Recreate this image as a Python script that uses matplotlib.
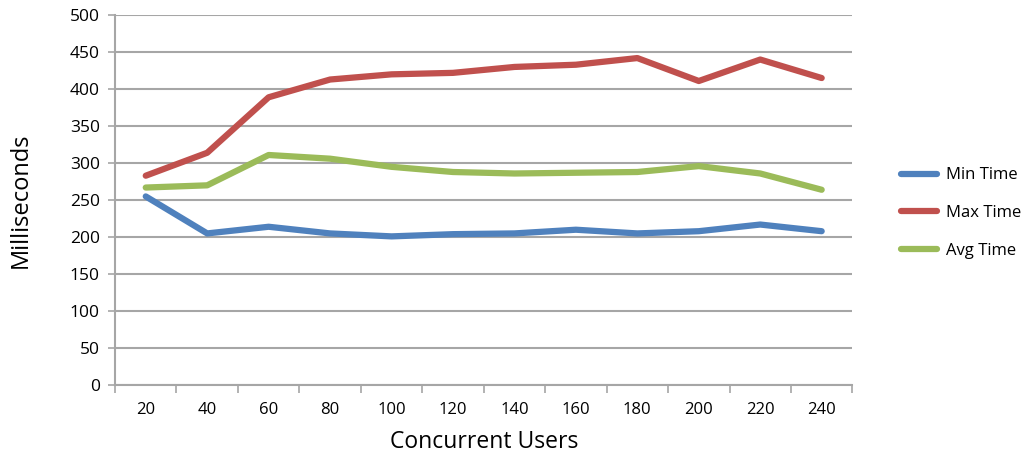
import numpy as np
import matplotlib
matplotlib.use("Agg")
import matplotlib.pyplot as plt

# data
users = [20, 40, 60, 80, 100, 120, 140, 160, 180, 200, 220, 240]
min_time = [255, 205, 214, 205, 201, 204, 205, 210, 205, 208, 217, 208]
max_time = [283, 314, 389, 413, 420, 422, 430, 433, 442, 411, 440, 415]
avg_time = [267, 270, 311, 306, 295, 288, 286, 287, 288, 296, 286, 264]
series_names = ["Min Time", "Max Time", "Avg Time"]

colors = ["#4F81BD", "#C0504D", "#9BBB59"]
grid_col = "#A6A6A6"

fig = plt.figure(figsize=(10.27, 4.59), dpi=100)
ax = fig.add_axes([0.112, 0.161, 0.718, 0.806])

x = np.arange(len(users))
for vals, name, c in zip([min_time, max_time, avg_time], series_names, colors):
    ax.plot(x, vals, color=c, lw=4.5, solid_capstyle="round",
            solid_joinstyle="round", label=name, zorder=3)

ax.set_xlim(-0.5, len(users) - 0.5)
ax.set_ylim(0, 500)
ax.set_yticks(np.arange(0, 501, 50))
ax.yaxis.grid(True, color=grid_col, lw=1.5)
ax.set_axisbelow(True)

# ticks between categories, labels on the categories
ax.set_xticks(np.arange(-0.5, len(users), 1.0))
ax.set_xticklabels([])
ax.set_xticks(x, minor=True)
ax.set_xticklabels([str(u) for u in users], minor=True,
                   family="Open Sans", fontsize=12)
ax.tick_params(axis="x", which="major", length=6, width=1.2, color=grid_col)
ax.tick_params(axis="x", which="minor", length=0, pad=12)
ax.tick_params(axis="y", length=5, width=1.2, color=grid_col, pad=6)
for lab in ax.get_yticklabels():
    lab.set_family("Open Sans")
    lab.set_fontsize(12.5)

for s in ["top", "right"]:
    ax.spines[s].set_visible(False)
for s in ["left", "bottom"]:
    ax.spines[s].set_color(grid_col)
    ax.spines[s].set_linewidth(1.5)

ax.set_xlabel("Concurrent Users", family="Open Sans", fontsize=16.5, labelpad=9)
ax.set_ylabel("Milliseconds", family="Open Sans", fontsize=17)
ax.yaxis.set_label_coords(-0.112, 0.5)

leg = ax.legend(loc="center left", bbox_to_anchor=(1.045, 0.465), frameon=False,
                handlelength=2.2, handletextpad=0.5, labelspacing=1.3,
                prop={"family": "Open Sans", "size": 12})

fig.savefig("out.png", dpi=100)
